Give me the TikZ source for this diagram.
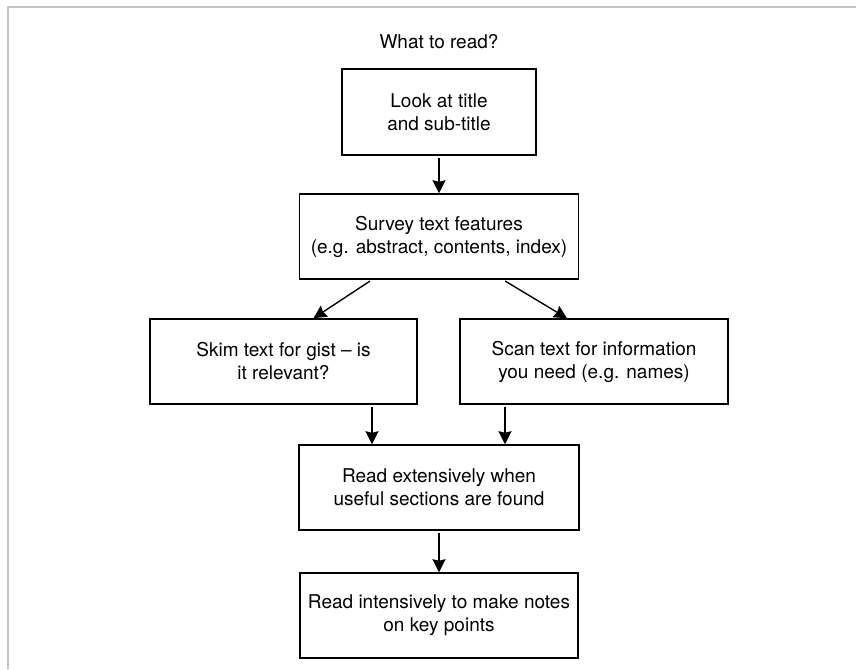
\documentclass[tikz,border=0pt]{standalone}
\usepackage{fontspec}
\setmainfont{TeX Gyre Heros}
\usetikzlibrary{arrows.meta,calc}
\definecolor{framegray}{HTML}{C4C4C4}
\tikzset{
  box/.style={draw=black, line width=1.5pt, fill=white, align=center, inner sep=0pt,
    font=\fontsize{19pt}{23pt}\selectfont},
  arr/.style={line width=1.4pt, -{Stealth[length=13pt,width=13pt,inset=1.5pt]}, shorten <=2.5pt},
}
\begin{document}
\begin{tikzpicture}[x=1pt,y=-1pt]
\useasboundingbox (0,0) rectangle (856,669);
\fill[white] (0,0) rectangle (856,669);
\draw[framegray, line width=2pt] (8,669) -- (8,7) -- (856,7);
\node[font=\fontsize{19pt}{23pt}\selectfont] (title) at (439,42) {What to read?};
\node[box, minimum width=194pt, minimum height=86pt] (b1) at (439,112) {Look at title\\and sub-title};
\node[box, minimum width=279pt, minimum height=85pt] (b2) at (439,236.5) {Survey text features\\(e.g. abstract, contents, index)};
\node[box, minimum width=267pt, minimum height=85pt] (b3) at (283.5,361.5) {Skim text for gist -- is\\it relevant?};
\node[box, minimum width=268pt, minimum height=85pt] (b4) at (594,361.5) {Scan text for information\\you need (e.g. names)};
\node[box, minimum width=280pt, minimum height=85pt] (b5) at (439,487.5) {Read extensively when\\useful sections are found};
\node[box, minimum width=278pt, minimum height=85pt] (b6) at (439,615.5) {Read intensively to make notes\\on key points};
\coordinate (s3) at ([xshift=88.5pt]b3.south);
\coordinate (s4) at ([xshift=-89pt]b4.south);
\draw[arr] (b1.south) -- (b2.north);
\draw[arr] ([xshift=-67pt]b2.south) -- ([xshift=30pt]b3.north);
\draw[arr] ([xshift=64pt]b2.south) -- ([xshift=-27pt]b4.north);
\draw[arr] (s3) -- (s3 |- b5.north);
\draw[arr] (s4) -- (s4 |- b5.north);
\draw[arr] (b5.south) -- (b6.north);
\end{tikzpicture}
\end{document}
